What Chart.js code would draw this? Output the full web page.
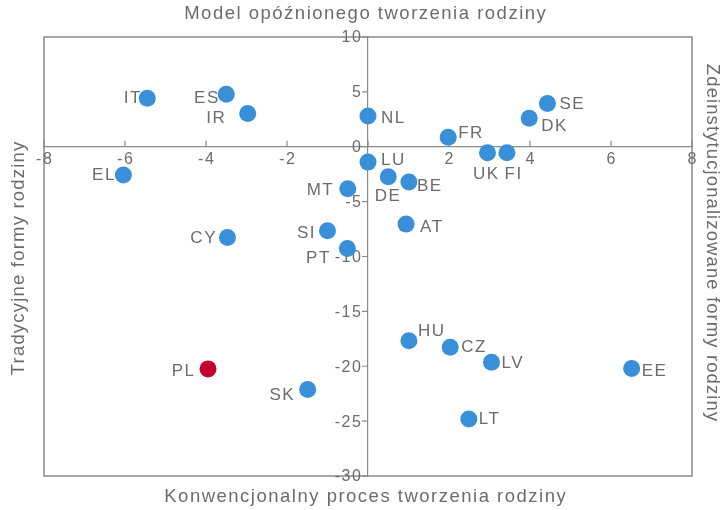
<!DOCTYPE html>
<html>
<head>
<meta charset="utf-8">
<script src="https://cdn.jsdelivr.net/npm/chart.js@4"></script>
<style>
  html, body { margin: 0; padding: 0; background: #fff; }
  #wrap { width: 721px; height: 510px; }
</style>
</head>
<body>
<div id="wrap"><canvas id="familyChart"></canvas></div>
<script>
// Countries and their positions on the two family-model dimensions
const countries = ['IT', 'ES', 'IR', 'NL', 'SE', 'DK', 'FR', 'UK', 'FI', 'LU', 'EL', 'DE', 'BE',
                   'MT', 'AT', 'SI', 'CY', 'PT', 'HU', 'CZ', 'LV', 'EE', 'PL', 'SK', 'LT'];
const xValues = [-5.45, -3.5, -2.97, 0, 4.43, 3.98, 1.98, 2.95, 3.43, 0, -6.04, 0.5, 1.01,
                 -0.5, 0.94, -1.0, -3.47, -0.51, 1.01, 2.03, 3.05, 6.51, -3.95, -1.49, 2.49];
const yValues = [4.41, 4.78, 3.04, 2.8, 3.95, 2.59, 0.86, -0.55, -0.55, -1.4, -2.58, -2.73, -3.22,
                 -3.83, -7.05, -7.66, -8.26, -9.27, -17.68, -18.26, -19.63, -20.2, -20.24, -22.12, -24.8];
const highlighted = 'PL';

const xTicks = [-8, -6, -4, -2, 0, 2, 4, 6, 8];
const yTicks = [10, 5, 0, -5, -10, -15, -20, -25, -30];

const topTitle = 'Model opóźnionego tworzenia rodziny';
const bottomTitle = 'Konwencjonalny proces tworzenia rodziny';
const leftTitle = 'Tradycyjne formy rodziny';
const rightTitle = 'Zdeinstytucjonalizowane formy rodziny';

// label placement relative to each point: [dx, dy, align]
const labelPlacement = {
    IT: [-7, 0, 'right'], ES: [-8, 4, 'right'], IR: [-23, 5, 'right'], NL: [13, 2, 'left'],
    SE: [12, 1, 'left'], DK: [12, 8, 'left'], FR: [10, -4, 'left'], UK: [-2, 22, 'center'],
    FI: [6, 22, 'center'], LU: [13, -2, 'left'], EL: [-9, 0, 'right'], DE: [-1, 20, 'center'],
    BE: [8, 4, 'left'], MT: [-15, 2, 'right'], AT: [14, 3, 'left'], SI: [-13, 2, 'right'],
    CY: [-12, 1, 'right'], PT: [-18, 10, 'right'], HU: [9, -9, 'left'], CZ: [11, 0, 'left'],
    LV: [10, 1, 'left'], EE: [10, 3, 'left'], PL: [-14, 2, 'right'], SK: [-14, 6, 'right'],
    LT: [10, 0, 'left']
};

const blue = '#3a8fd9';
const red = '#c1002c';
const grey = '#6c6c6c';
const lineGrey = '#8a8a8a';
const font = '"Liberation Sans", Arial, sans-serif';

const points = countries.map((c, i) => ({ x: xValues[i], y: yValues[i] }));

// text with some tracking, aligned without the trailing gap
function spacedText(ctx, text, x, y, align, spacing) {
    ctx.letterSpacing = spacing + 'px';
    const w = ctx.measureText(text).width - spacing;
    let x0 = x;
    if (align === 'right') x0 = x - w;
    else if (align === 'center') x0 = x - w / 2;
    ctx.textAlign = 'left';
    ctx.fillText(text, x0, y);
}

const labelsPlugin = {
    id: 'pointLabels',
    afterDatasetsDraw(chart) {
        const ctx = chart.ctx;
        const meta = chart.getDatasetMeta(0);
        ctx.save();
        ctx.font = '17px ' + font;
        ctx.fillStyle = grey;
        ctx.textBaseline = 'middle';
        meta.data.forEach((el, i) => {
            const p = labelPlacement[countries[i]] || [10, 0, 'left'];
            spacedText(ctx, countries[i], el.x + p[0], el.y + p[1], p[2], 1.5);
        });
        ctx.restore();
    }
};

const frameAndTitles = {
    id: 'frameAndTitles',
    beforeDatasetsDraw(chart) {
        const { ctx, chartArea, scales } = chart;
        const x0 = scales.x.getPixelForValue(0);
        const y0 = scales.y.getPixelForValue(0);
        ctx.save();
        ctx.strokeStyle = lineGrey;
        ctx.lineWidth = 1.5;
        ctx.strokeRect(chartArea.left, chartArea.top,
                       chartArea.right - chartArea.left, chartArea.bottom - chartArea.top);
        // tick marks
        ctx.lineWidth = 1.2;
        ctx.beginPath();
        xTicks.forEach(v => {
            const px = scales.x.getPixelForValue(v);
            ctx.moveTo(px, y0);
            ctx.lineTo(px, y0 - 6);
        });
        yTicks.forEach(v => {
            const py = scales.y.getPixelForValue(v);
            ctx.moveTo(x0, py);
            ctx.lineTo(x0 - 6, py);
        });
        ctx.stroke();
        // tick labels
        ctx.font = '16px ' + font;
        ctx.fillStyle = grey;
        ctx.textBaseline = 'top';
        xTicks.forEach(v => {
            if (v === 0) return;
            spacedText(ctx, String(v), scales.x.getPixelForValue(v), y0 + 5, 'center', 1.6);
        });
        ctx.textBaseline = 'middle';
        yTicks.forEach(v => {
            spacedText(ctx, String(v), x0 - 7, scales.y.getPixelForValue(v) + 1, 'right', 1.6);
        });
        ctx.restore();
    },
    afterDraw(chart) {
        const { ctx, chartArea } = chart;
        const cx = (chartArea.left + chartArea.right) / 2;
        const cy = (chartArea.top + chartArea.bottom) / 2;
        ctx.save();
        ctx.font = '18.5px ' + font;
        ctx.fillStyle = grey;
        ctx.textBaseline = 'middle';
        spacedText(ctx, topTitle, cx - 3, 14, 'center', 1.5);
        spacedText(ctx, bottomTitle, cx - 3, 497, 'center', 1.5);
        ctx.save();
        ctx.translate(19, cy + 2);
        ctx.rotate(-Math.PI / 2);
        spacedText(ctx, leftTitle, 0, 0, 'center', 1.2);
        ctx.restore();
        ctx.save();
        ctx.translate(712, cy - 14);
        ctx.rotate(Math.PI / 2);
        spacedText(ctx, rightTitle, 0, 0, 'center', 1.1);
        ctx.restore();
        ctx.restore();
    }
};

new Chart(document.getElementById('familyChart'), {
    type: 'scatter',
    data: {
        datasets: [{
            data: points,
            pointRadius: 8.5,
            pointHoverRadius: 8.5,
            pointBorderWidth: 0,
            pointBackgroundColor: countries.map(c => c === highlighted ? red : blue)
        }]
    },
    options: {
        responsive: true,
        maintainAspectRatio: false,
        animation: false,
        layout: { padding: { left: 44, right: 29, top: 37, bottom: 34 } },
        plugins: {
            legend: { display: false },
            tooltip: { enabled: false }
        },
        scales: {
            x: {
                type: 'linear',
                position: { y: 0 },
                min: -8,
                max: 8,
                ticks: { display: false },
                grid: { display: false },
                border: { display: true, color: lineGrey, width: 1.2 }
            },
            y: {
                type: 'linear',
                position: { x: 0 },
                min: -30,
                max: 10,
                ticks: { display: false },
                grid: { display: false },
                border: { display: true, color: lineGrey, width: 1.2 }
            }
        }
    },
    plugins: [frameAndTitles, labelsPlugin]
});
</script>
</body>
</html>
